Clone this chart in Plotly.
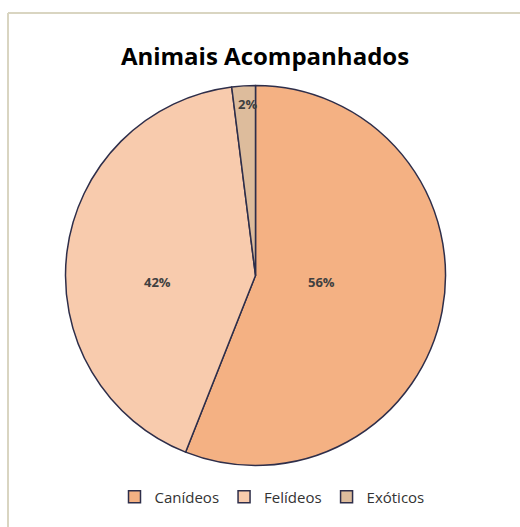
import plotly.graph_objects as go

categories = ["Canídeos", "Felídeos", "Exóticos"]
values = [56, 42, 2]
colors = ["#F4B183", "#F8CBAD", "#DDBC9C"]

# label placement (pixel offsets from pie centre, Excel "best fit" style)
label_dx = [66, -98, -8]
label_dy = [6, 6, -172]

W, H = 520, 527
cx, cy, r = 255.5, 275.5, 190

fig = go.Figure(go.Pie(
    labels=categories,
    values=values,
    sort=False,
    direction="clockwise",
    rotation=0,
    marker=dict(colors=colors, line=dict(color="#2E2E4A", width=1.5)),
    textinfo="none",
    hoverinfo="label+percent",
    domain=dict(x=[(cx - r) / W, (cx + r) / W], y=[1 - (cy + r) / H, 1 - (cy - r) / H]),
))

total = sum(values)
annotations = []
for v, dx, dy in zip(values, label_dx, label_dy):
    annotations.append(dict(
        text="<b>%d%%</b>" % round(100 * v / total),
        xref="paper", yref="paper",
        x=(cx + dx) / W, y=1 - (cy + dy) / H,
        xanchor="center", yanchor="middle", showarrow=False,
        font=dict(family="Open Sans", size=13, color="#404040"),
    ))

fig.update_layout(
    width=W, height=H,
    margin=dict(l=0, r=0, t=0, b=0, autoexpand=False),
    paper_bgcolor="white",
    title=dict(text="<b>Animais Acompanhados</b>", x=265 / W, xanchor="center",
               y=1 - 57 / H, yanchor="middle",
               font=dict(family="Open Sans", size=24, color="#000000")),
    showlegend=True,
    legend=dict(orientation="h", x=272 / W, xanchor="center", y=1 - 497 / H, yanchor="middle",
                font=dict(family="Open Sans", size=15, color="#333333"),
                itemwidth=30, traceorder="normal"),
    annotations=annotations,
    shapes=[
        dict(type="line", xref="paper", yref="paper", x0=8 / W, x1=1.01, y0=1 - 13 / H, y1=1 - 13 / H,
             line=dict(color="#D9D5C1", width=2)),
        dict(type="line", xref="paper", yref="paper", x0=8 / W, x1=8 / W, y0=1 - 13 / H, y1=-0.01,
             line=dict(color="#D9D5C1", width=2)),
    ],
)

fig.write_html("out.html")
